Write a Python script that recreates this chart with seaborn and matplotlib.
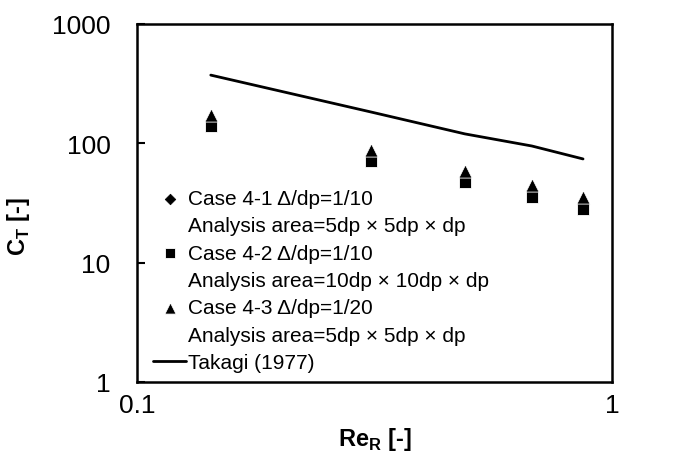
import matplotlib
matplotlib.use("Agg")
import matplotlib.pyplot as plt
import seaborn as sns
import pandas as pd
from matplotlib.lines import Line2D

sns.set_style("white")
plt.rcParams['font.family'] = ['Liberation Sans', 'DejaVu Sans']
plt.rcParams['mathtext.fontset'] = 'custom'
plt.rcParams['mathtext.rm'] = 'Liberation Sans'
plt.rcParams['mathtext.bf'] = 'Liberation Sans:bold'
plt.rcParams['text.color'] = 'black'
plt.rcParams['axes.labelcolor'] = 'black'
plt.rcParams['xtick.color'] = 'black'
plt.rcParams['ytick.color'] = 'black'

re_r = [0.143, 0.311, 0.490, 0.678, 0.869]
case41 = [155, 78, 52, 40, 31]
case42 = [140, 70.6, 47.1, 35.7, 28.3]
case43 = [173, 88, 58.9, 45, 35.2]
takagi = [373, 183, 120, 95, 74]

label41 = "Case 4-1 Δ/dp=1/10"
label42 = "Case 4-2 Δ/dp=1/10"
label43 = "Case 4-3 Δ/dp=1/20"
sub41 = "Analysis area=5dp × 5dp × dp"
sub42 = "Analysis area=10dp × 10dp × dp"
sub43 = "Analysis area=5dp × 5dp × dp"
label_tk = "Takagi (1977)"

fig = plt.figure(figsize=(6.81, 4.77), dpi=100)
ax = fig.add_axes([137/681, 1-383/477, 475/681, 358/477])

df = pd.DataFrame({"x": re_r, "c41": case41, "c42": case42, "c43": case43, "tk": takagi})
sns.scatterplot(data=df, x="x", y="c41", marker="D", s=40, color="black", edgecolor="black", ax=ax, label=label41, zorder=3)
sns.scatterplot(data=df, x="x", y="c42", marker="s", s=80, color="black", edgecolor="white", linewidth=0.6, ax=ax, label=label42, zorder=4)
sns.scatterplot(data=df, x="x", y="c43", marker="^", s=90, color="black", edgecolor="white", linewidth=0.6, ax=ax, label=label43, zorder=5)
sns.lineplot(data=df, x="x", y="tk", color="black", linewidth=2, ax=ax, label=label_tk, zorder=2)

ax.set_xscale("log")
ax.set_yscale("log")
ax.set_xlim(0.1, 1)
ax.set_ylim(1, 1000)
ax.set_xticks([0.1, 1])
ax.set_xticklabels(["0.1", "1"])
ax.set_yticks([1, 10, 100, 1000])
ax.set_yticklabels(["1", "10", "100", "1000"])
ax.minorticks_off()
ax.tick_params(axis="y", direction="in", length=6, width=1.5, labelsize=19, pad=19, left=True)
ax.tick_params(axis="x", direction="in", length=0, labelsize=19, pad=8, bottom=True)
for sp in ax.spines.values():
    sp.set_linewidth(1.8)
    sp.set_color("black")

ax.set_xlabel(r"Re$_{\mathregular{R}}$ [-]", fontsize=17, fontweight="bold", labelpad=6)
ax.set_ylabel(r"C$_{\mathregular{T}}$ [-]", fontsize=17, fontweight="bold")
ax.yaxis.set_label_coords(-0.222, 0.436)

h, l = ax.get_legend_handles_labels()
blank = Line2D([], [], linestyle="none", marker=None)
handles = [h[0], blank, h[1], blank, h[2], blank, h[3]]
labels = [l[0], sub41, l[1], sub42, l[2], sub43, l[3]]
ax.legend(handles, labels, loc="upper left", bbox_to_anchor=(0.034, 0.539), frameon=False,
          fontsize=15, handlelength=1.6, handletextpad=0.05, labelspacing=0.4,
          borderpad=0, borderaxespad=0, markerscale=0.85)

fig.savefig("out.png", dpi=100)
